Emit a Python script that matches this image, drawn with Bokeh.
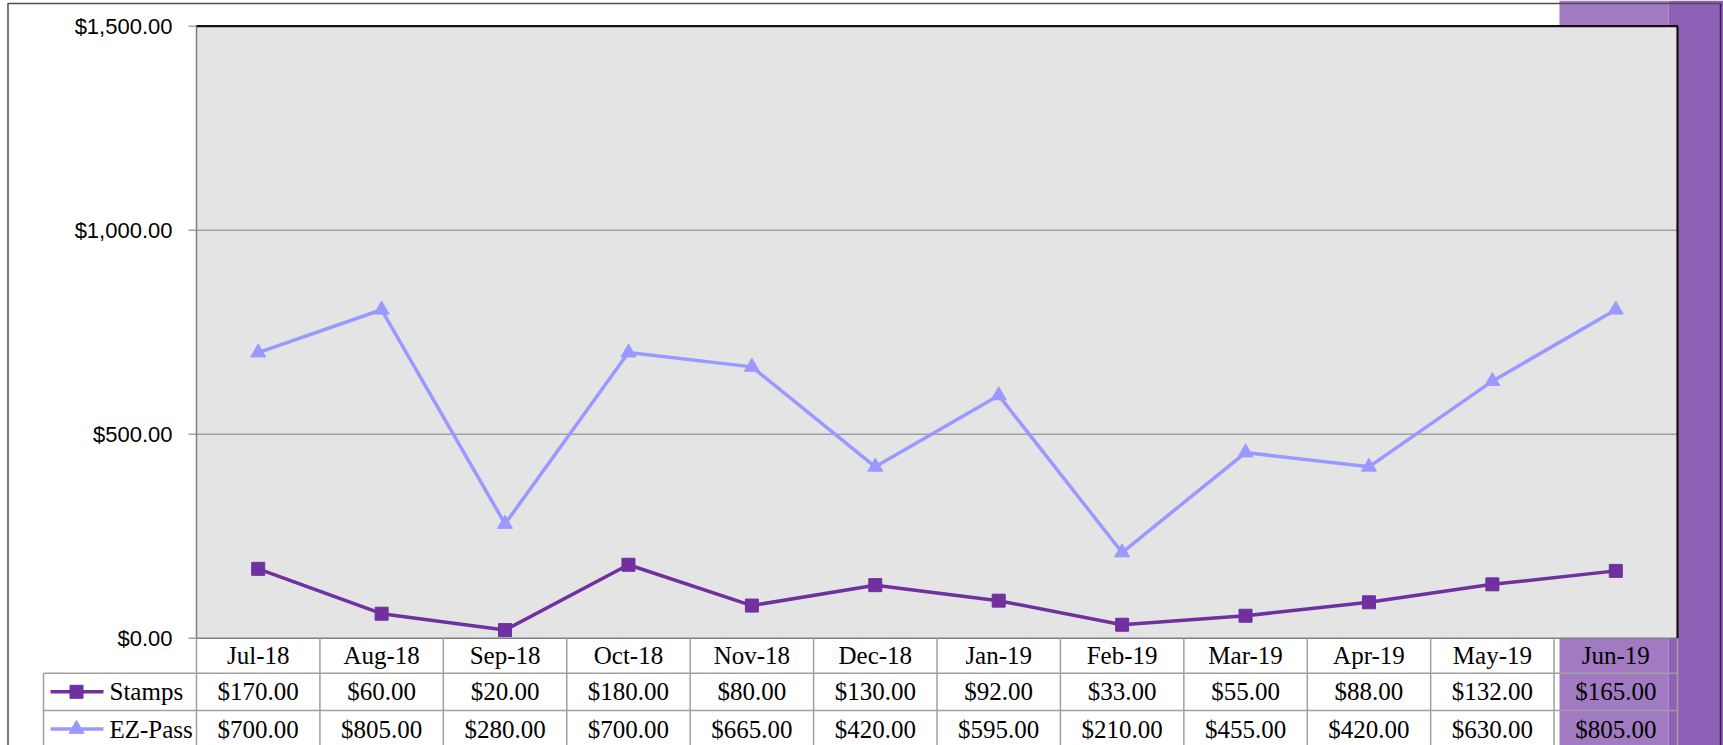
from bokeh.plotting import figure
from bokeh.models import Range1d
from bokeh.embed import file_html
from bokeh.resources import INLINE
from bokeh.core.properties import value

# ---------------- data ----------------
months = ["Jul-18", "Aug-18", "Sep-18", "Oct-18", "Nov-18", "Dec-18",
          "Jan-19", "Feb-19", "Mar-19", "Apr-19", "May-19", "Jun-19"]
stamps = [170, 60, 20, 180, 80, 130, 92, 33, 55, 88, 132, 165]
ezpass = [700, 805, 280, 700, 665, 420, 595, 210, 455, 420, 630, 805]
series_names = ["Stamps", "EZ-Pass"]
y_ticks = [0, 500, 1000, 1500]
y_tick_labels = ["$0.00", "$500.00", "$1,000.00", "$1,500.00"]
highlight_month = "Jun-19"

# ---------------- styles / layout ----------------
C_STAMPS = "#7030A0"
C_EZ = "#9999FF"
C_PLOT_BG = "#E4E4E4"
C_GRID = "#A0A0A0"
C_LIGHT = "#A17AC1"
C_DARK = "#8E60B6"
SERIF = value("Liberation Serif")
SANS = value("Liberation Sans")
SERIF_SIZE = "25px"

W, H = 1723, 745
PL, PR = 196, 1677          # plot area left/right (px)
PT, PB = 25.7, 637.7        # plot area top/bottom (px)
YMAX = y_ticks[-1]
n = len(months)
COL = (PR - PL) / n
ppu = (PB - PT) / YMAX


def cx(px):
    return (px - PL) / COL


def vy(py):
    return (PB - py) / ppu


hi = months.index(highlight_month)

p = figure(width=W, height=H,
           x_range=Range1d(cx(0), cx(W)), y_range=Range1d(vy(H), vy(0)),
           x_axis_type=None, y_axis_type=None,
           output_backend="svg", toolbar_location=None,
           min_border_left=0, min_border_right=0, min_border_top=0, min_border_bottom=0,
           background_fill_color="white", border_fill_color="white",
           outline_line_color=None)

# highlighted column (selection shading)
p.quad(left=[cx(1559)], right=[cx(1668)], bottom=[vy(H)], top=[vy(0)],
       fill_color=C_LIGHT, line_color=None)
p.quad(left=[cx(1668)], right=[cx(W)], bottom=[vy(H)], top=[vy(0)],
       fill_color=C_DARK, line_color=None)

# outer frame
p.line([cx(7.5), cx(7.5), cx(1720)], [vy(H), vy(3), vy(3)], line_color="#4D4D4D", line_width=1.5)
p.line([cx(1720), cx(1720)], [vy(3), vy(H)], line_color="#33283F", line_width=1.5)

# plot area
p.quad(left=[0], right=[n], bottom=[0], top=[YMAX], fill_color=C_PLOT_BG, line_color=None)
grid_vals = y_ticks[1:-1]
p.segment(x0=[0] * len(grid_vals), x1=[n] * len(grid_vals), y0=grid_vals, y1=grid_vals,
          line_color=C_GRID, line_width=1.5)

# y axis: ticks and labels
p.segment(x0=[cx(188)] * len(y_ticks), x1=[0] * len(y_ticks), y0=y_ticks, y1=y_ticks,
          line_color=C_GRID, line_width=1.5)
p.text(x=[cx(172)] * len(y_ticks), y=y_ticks, text=y_tick_labels, text_font=SANS,
       text_font_size="22px", text_align="right", text_baseline="middle", text_color="black")

# plot borders
p.line([0, 0, n], [YMAX, 0, 0], line_color="#7F7F7F", line_width=1.5)
p.line([0, n, n], [YMAX, YMAX, 0], line_color="#111111", line_width=2.2)

# ---------------- data table ----------------
xs_b = list(range(n + 1))
table_bottom = vy(H + 5)
p.segment(x0=xs_b, x1=xs_b, y0=[0] * (n + 1), y1=[table_bottom] * (n + 1),
          line_color=C_GRID, line_width=1.5)
row_lines = [vy(672.7), vy(710.0)]
xl = cx(43)
p.segment(x0=[xl] * len(row_lines), x1=[n] * len(row_lines), y0=row_lines, y1=row_lines,
          line_color=C_GRID, line_width=1.5)
p.segment(x0=[xl], x1=[xl], y0=[vy(672.7)], y1=[table_bottom], line_color=C_GRID, line_width=1.5)

xc = [i + 0.5 for i in range(n)]
p.text(x=xc, y=[vy(655.2)] * n, text=months, text_font=SERIF, text_font_size=SERIF_SIZE,
       text_align="center", text_baseline="middle", text_color="black")

row_y = [vy(691.3), vy(728.5)]
for vals, ry in zip([stamps, ezpass], row_y):
    p.text(x=xc, y=[ry] * n, text=[f"${v:,.2f}" for v in vals], text_font=SERIF,
           text_font_size=SERIF_SIZE, text_align="center", text_baseline="middle",
           text_color="black")

# legend keys in the table
for name, ry, col, mk, sz in zip(series_names, row_y, [C_STAMPS, C_EZ],
                                 ["square", "triangle"], [13, 15]):
    p.line([cx(50), cx(103)], [ry, ry], line_color=col, line_width=3.5)
    p.scatter([cx(76)], [ry], marker=mk, size=sz, fill_color=col, line_color=col)
    p.text(x=[cx(109)], y=[ry], text=[name], text_font=SERIF, text_font_size=SERIF_SIZE,
           text_align="left", text_baseline="middle", text_color="black")

# ---------------- series ----------------
p.line(xc, ezpass, line_color=C_EZ, line_width=3.5)
p.scatter(xc, ezpass, marker="triangle", size=15, fill_color=C_EZ, line_color=C_EZ)
p.line(xc, stamps, line_color=C_STAMPS, line_width=3.5)
p.scatter(xc, stamps, marker="square", size=13, fill_color=C_STAMPS, line_color=C_STAMPS)

open("out.html", "w").write(file_html(p, INLINE))
